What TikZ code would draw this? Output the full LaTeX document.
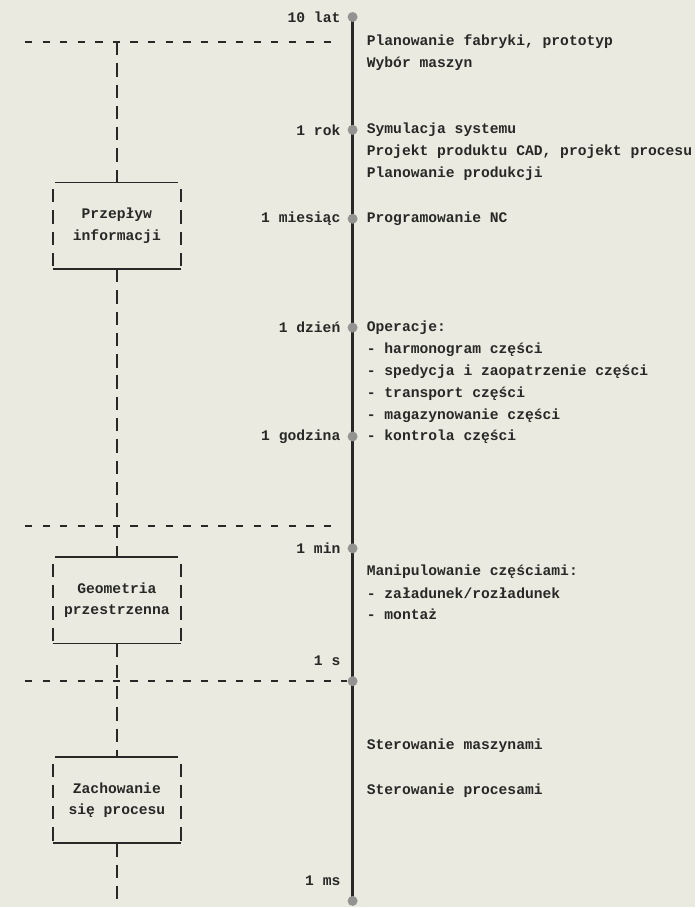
\documentclass[tikz,border=0pt]{standalone}
\usepackage{fontspec}
\setmainfont{Liberation Mono}
\usepackage{xcolor}

\definecolor{paper}{RGB}{234,234,225}
\definecolor{ink}{RGB}{40,40,38}

\begin{document}
\begin{tikzpicture}[x=0.75pt,y=-0.75pt,
  every node/.style={font=\bfseries\fontsize{11}{16}\selectfont,text=ink,inner sep=0pt},
  when/.style={anchor=east},
  what/.style={anchor=west},
  dot/.style={circle,fill=ink!50,minimum size=7.5pt},
  axis/.style={ink,line width=1.8pt},
  sep/.style={ink,line width=1.6pt,dash pattern=on 5.5pt off 7.7pt},
  link/.style={ink,line width=1.6pt,dash pattern=on 10pt off 6pt},
  rule/.style={ink,line width=1.3pt},
  frame/.style={minimum width=96pt,minimum height=64.5pt,align=center}]
  \fill[paper] (0,0) rectangle (696,908);
  \coordinate (top) at (353,17);
  \coordinate (bot) at (353,902);
  \draw[axis] (top) -- (bot);
  \foreach \y [count=\i] in {17,130,219,328,437,549,682,902}
    \node[dot] (d\i) at (353,\y) {};
  \foreach \y/\t [count=\i] in {17/10 lat,130/1 rok,219/1 miesiąc,328/1 dzień,437/1 godzina,549/1 min,662/1 s,882/1 ms}
    \node[when] (l\i) at (341,\y) {\t};
  \foreach \y/\t [count=\i] in {42/{Planowanie fabryki, prototyp},64/Wybór maszyn,
      130/Symulacja systemu,152/{Projekt produktu CAD, projekt procesu},174/Planowanie produkcji,
      219/Programowanie NC,328/Operacje:,350/- harmonogram części,
      372/- spedycja i zaopatrzenie części,394/- transport części,416/- magazynowanie części,
      437/- kontrola części,572/Manipulowanie częściami:,594/{- załadunek/rozładunek},
      615/- montaż,747/Sterowanie maszynami,792/Sterowanie procesami}
    \node[what] (t\i) at (367,\y) {\t};
  \node[frame] (b1) at (117,226) {Przepływ\\informacji};
  \node[frame] (b2) at (117,601) {Geometria\\przestrzenna};
  \node[frame] (b3) at (117,801) {Zachowanie\\się procesu};
  \foreach \b in {b1,b2,b3} {
    \draw[rule] ([xshift=2pt]\b.north west) -- ([xshift=-2pt]\b.north east);
    \draw[rule] (\b.south west) -- (\b.south east);
    \draw[link] ([yshift=-5pt]\b.north west) -- (\b.south west);
    \draw[link] ([yshift=-5pt]\b.north east) -- (\b.south east);
  }
  \coordinate (s1w) at (25,42);
  \coordinate (s1e) at (335,42);
  \coordinate (s1) at (117,42);
  \coordinate (s2w) at (25,527);
  \coordinate (s2e) at (335,527);
  \coordinate (s3w) at (25,682);
  \coordinate (end) at (117,908);
  \draw[sep] (s1w) -- (s1e);
  \draw[sep] (s2w) -- (s2e);
  \draw[sep] (s3w) -- (d7);
  \draw[link] (s1) -- (b1.north);
  \draw[link] (b1.south) -- (b2.north);
  \draw[link] (b2.south) -- (b3.north);
  \draw[link] (b3.south) -- (end);
\end{tikzpicture}
\end{document}
